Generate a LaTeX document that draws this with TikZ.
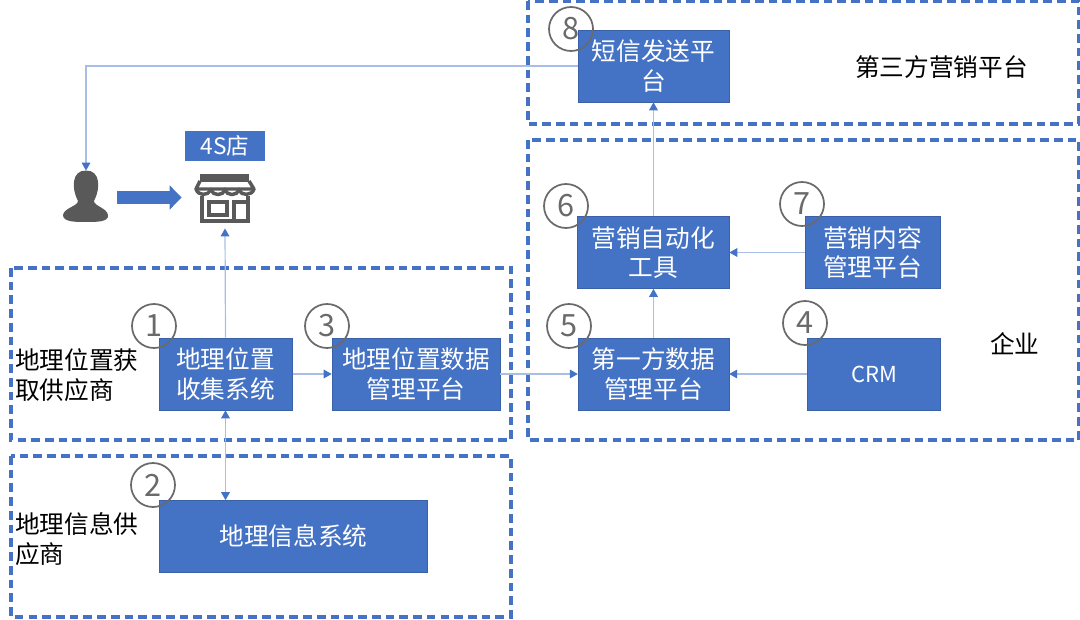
\documentclass[tikz,border=0pt]{standalone}
\usepackage{fontspec}
\setmainfont{Noto Sans CJK SC}
\usetikzlibrary{arrows.meta}
\definecolor{boxblue}{HTML}{4472C4}
\definecolor{linkblue}{HTML}{A9BEE4}
\definecolor{icongray}{HTML}{595959}

\begin{document}
\begin{tikzpicture}[x=0.75pt, y=-0.75pt,
      link/.style={draw=linkblue, line width=0.9pt, -{Triangle[color=boxblue,length=6pt,width=6.5pt]}},
      every node/.append style={inner sep=0pt, font=\fontsize{18.5pt}{22pt}\selectfont}]
    \tikzstyle{box} = [fill=boxblue, draw=boxblue!85!black, line width=0.5pt, text=white, align=center, minimum height=54pt]
    \tikzstyle{zone} = [draw=boxblue, line width=2.7pt, dash pattern=on 6.5pt off 3.8pt]
    \tikzstyle{num} = [circle, draw=icongray!90, line width=1.3pt, minimum size=33pt, text=icongray!90, font=\fontsize{23pt}{23pt}\selectfont]
    \tikzstyle{word} = [align=left, anchor=west, text=black]
    \useasboundingbox (0,0) rectangle (1080,620);
    \draw [zone] (528,1) rectangle (1079,124);
    \draw [zone] (528,140) rectangle (1079,440);
    \draw [zone] (11,268) rectangle (511,440);
    \draw [zone] (11,456) rectangle (511,617);

    \node (sms) [box, minimum width=113pt] at (653.5,66) {短信发送平\\台};
    \node (auto) [box, minimum width=114pt] at (653,252.5) {营销自动化\\工具};
    \node (content) [box, minimum width=101pt] at (872.5,252.5) {营销内容\\管理平台};
    \node (first) [box, minimum width=113pt] at (653.5,374) {第一方数据\\管理平台};
    \node (crm) [box, minimum width=100pt, font=\fontsize{16.5pt}{18pt}\selectfont] at (874,374) {CRM};
    \node (collect) [box, minimum width=100pt] at (225.5,374) {地理位置\\收集系统};
    \node (geodata) [box, minimum width=126pt] at (416,374) {地理位置数据\\管理平台};
    \node (geoinfo) [box, minimum width=201pt] at (293.5,536.5) {地理信息系统};
    \node (shoplabel) [fill=boxblue, text=white, minimum width=60pt, minimum height=22.5pt, font=\fontsize{17pt}{18pt}\selectfont] at (225,146) {4S店};

    \node (person) [minimum width=46.5pt, minimum height=40pt] at (86,197.5) {};
    \node (shop) [minimum width=64.5pt, minimum height=46pt] at (225,197.5) {};
    \fill [icongray] (person.north) .. controls (72,170) and (71,188) .. (78,201)
      .. controls (78,206) and (64,208) .. (63,215) .. controls (63,222) and (75,222) .. (86,222)
      .. controls (97,222) and (109,222) .. (108,215) .. controls (107,208) and (94,206) .. (94,201)
      .. controls (101,188) and (100,170) .. (person.north) -- cycle;
    \fill [icongray] (200,174) rectangle (249,182);
    \draw [icongray, line width=2.6pt, line join=round] (200,181) -- (196,189) -- (254,189) -- (249,181);
    \draw [icongray, line width=2.6pt] (196,189) .. controls (198,196) and (208,196) .. (211,190)
      .. controls (213,196) and (223,196) .. (225,190) .. controls (227,196) and (237,196) .. (239,190)
      .. controls (241,196) and (252,196) .. (254,189);
    \draw [icongray, line width=3.2pt] (202,196) -- (202,221) -- (248,221) -- (248,196);
    \draw [icongray, line width=3pt] (209,202) rectangle (227,215);
    \draw [icongray, line width=3pt] (234,221) -- (234,202) -- (248,202);

    \node (one) [num] at (154,326) {1};
    \node (two) [num] at (153,485) {2};
    \node (three) [num] at (327,326) {3};
    \node (four) [num] at (805,323) {4};
    \node (five) [num] at (569,326) {5};
    \node (six) [num] at (566,206) {6};
    \node (seven) [num] at (802,204) {7};
    \node (eight) [num] at (571,29) {8};

    \node (geobuy) [word] at (15,375) {地理位置获\\取供应商};
    \node (geosup) [word] at (15,539) {地理信息供\\应商};
    \node (third) [word] at (855,67) {第三方营销平台};
    \node (corp) [word] at (990,344) {企业};

    \draw [link] (sms.west) -| (person.north);
    \draw [link] (auto.north -| sms.south) -- (sms.south);
    \draw [link] (first.north) -- (first.north |- auto.south);
    \draw [link] (content.west) -- (auto.east);
    \draw [link] (crm.west) -- (first.east);
    \draw [link] (geodata.east) -- (first.west);
    \draw [link] (collect.east) -- (geodata.west);
    \draw [link] (collect.north) -- (shop.south);
    \draw [link, {Triangle[color=boxblue,length=6pt,width=6.5pt]}-{Triangle[color=boxblue,length=6pt,width=6.5pt]}] (collect.south) -- (collect.south |- geoinfo.north);
    \draw [draw=boxblue, line width=9.75pt, -{Triangle[length=9pt,width=17.5pt]}] (person.east) -- (shop.west);
\end{tikzpicture}
\end{document}
